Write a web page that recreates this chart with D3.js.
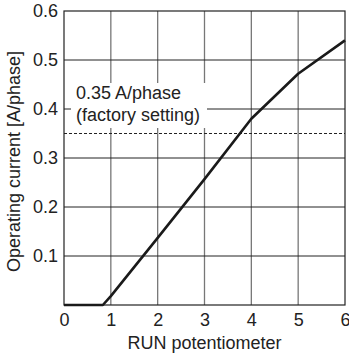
<!DOCTYPE html>
<html><head><meta charset="utf-8">
<script src="https://cdn.jsdelivr.net/npm/d3@7"></script>
<style>body{margin:0;background:#fff}svg{display:block}</style>
</head><body>
<script>
const xTicks = [0,1,2,3,4,5,6];
const yTicks = [0.1,0.2,0.3,0.4,0.5,0.6];
const runPos = [0, 0.83, 1, 2, 3, 4, 5, 6];
const current = [0, 0, 0.018, 0.137, 0.257, 0.38, 0.472, 0.54];
const factorySetting = 0.35;
const noteLines = ["0.35 A/phase", "(factory setting)"];

const W = 349, H = 356;
const m = {l:64, r:4, t:11, b:51};
const svg = d3.select("body").append("svg").attr("width", W).attr("height", H);
const x = d3.scaleLinear().domain([0,6]).range([m.l, W - m.r]);
const y = d3.scaleLinear().domain([0,0.6]).range([H - m.b, m.t]);
const font = "Liberation Sans, Arial, Helvetica, sans-serif";
const fs = 18;

// vertical grid
svg.append("g").selectAll("line").data(xTicks.slice(1,-1)).join("line")
  .attr("x1", d=>x(d)).attr("x2", d=>x(d)).attr("y1", y(0.6)).attr("y2", y(0))
  .attr("stroke", "#777").attr("stroke-width", 1.3);
// horizontal grid
svg.append("g").selectAll("line").data(yTicks.slice(0,-1)).join("line")
  .attr("x1", x(0)).attr("x2", x(6)).attr("y1", d=>y(d)).attr("y2", d=>y(d))
  .attr("stroke", "#222").attr("stroke-width", 1);

// note box
svg.append("rect").attr("x", 71).attr("y", 83).attr("width", 136).attr("height", 45).attr("fill", "#fff");
svg.append("g").selectAll("text").data(noteLines).join("text")
  .attr("x", 76).attr("y", (d,i)=> 99 + i*21.5)
  .attr("font-family", font).attr("font-size", fs).attr("fill", "#222").text(d=>d);

// dashed factory line
svg.append("line").attr("x1", x(0)).attr("x2", x(6))
  .attr("y1", y(factorySetting)).attr("y2", y(factorySetting))
  .attr("stroke", "#222").attr("stroke-width", 1).attr("stroke-dasharray", "3,2");

// frame
svg.append("rect").attr("x", x(0)).attr("y", y(0.6)).attr("width", x(6)-x(0)).attr("height", y(0)-y(0.6))
  .attr("fill", "none").attr("stroke", "#222").attr("stroke-width", 1.2);

// curve
const pts = runPos.map((v,i)=>[v, current[i]]);
svg.append("path").datum(pts)
  .attr("d", d3.line().x(d=>x(d[0])).y(d=>y(d[1])))
  .attr("fill", "none").attr("stroke", "#1a1a1a").attr("stroke-width", 2.6).attr("stroke-linejoin", "round");

// axes labels
const xa = svg.append("g").attr("transform", `translate(0,${y(0)})`)
  .call(d3.axisBottom(x).tickValues(xTicks).tickSize(0).tickPadding(0).tickFormat(d3.format("d")));
xa.select(".domain").remove();
xa.selectAll("text").attr("font-family", font).attr("font-size", fs).attr("fill", "#222")
  .attr("dy", null).attr("y", 21);

const ya = svg.append("g").attr("transform", `translate(${x(0)},0)`)
  .call(d3.axisLeft(y).tickValues(yTicks).tickSize(0).tickPadding(6).tickFormat(d3.format(".1f")));
ya.select(".domain").remove();
ya.selectAll("text").attr("font-family", font).attr("font-size", fs).attr("fill", "#222");

svg.append("text").attr("x", (x(0)+x(6))/2).attr("y", 349).attr("text-anchor", "middle")
  .attr("font-family", font).attr("font-size", fs).attr("fill", "#222").text("RUN potentiometer");
svg.append("text").attr("transform", `translate(20,161.5) rotate(-90)`).attr("text-anchor", "middle")
  .attr("font-family", font).attr("font-size", fs).attr("fill", "#222").text("Operating current [A/phase]");
</script>
</body></html>
